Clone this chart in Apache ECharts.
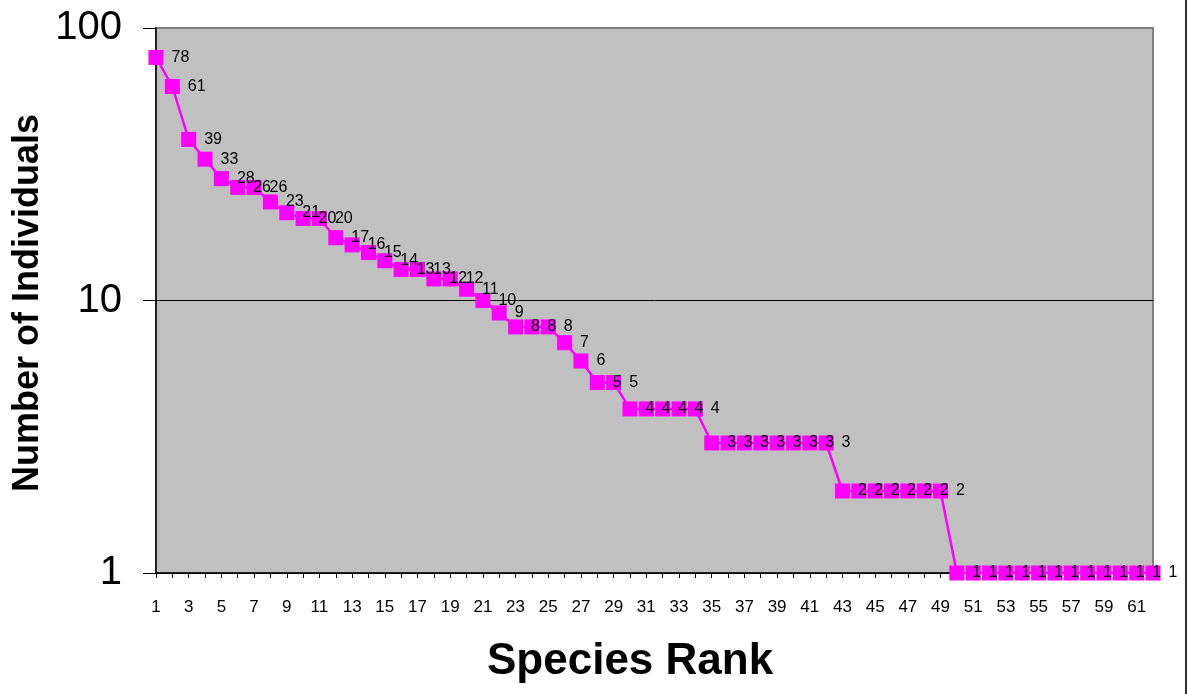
<!DOCTYPE html>
<html>

<head>
  <meta charset="utf-8" />
  <script src="https://cdn.jsdelivr.net/npm/echarts@6/dist/echarts.min.js"></script>
</head>

<body style="margin:0;background:#fff;">
  <div id="main" style="width: 1188px;height:694px;"></div>
  <script type="text/javascript">
    // species rank 1..62 and their counts
    var ranks = []
    for (var r = 1; r <= 62; r++) ranks.push(String(r))
    var individuals = [
      78, 61, 39, 33, 28, 26, 26, 23, 21, 20,
      20, 17, 16, 15, 14, 13, 13, 12, 12, 11,
      10, 9, 8, 8, 8, 7, 6, 5, 5, 4,
      4, 4, 4, 4, 3, 3, 3, 3, 3, 3,
      3, 3, 2, 2, 2, 2, 2, 2, 2, 1,
      1, 1, 1, 1, 1, 1, 1, 1, 1, 1,
      1, 1
    ]
    var yTicks = [1, 10, 100]

    var font = '"Liberation Sans", Arial, sans-serif'
    var myChart = echarts.init(document.getElementById('main'));

    var option = {
      animation: false,
      textStyle: { fontFamily: font },
      grid: {
        left: 156,
        top: 28,
        right: 35,
        bottom: 121,
        show: true,
        backgroundColor: '#C0C0C0',
        borderColor: '#808080',
        borderWidth: 2
      },
      xAxis: {
        type: 'category',
        data: ranks,
        boundaryGap: false,
        axisLine: { lineStyle: { color: '#000', width: 1.5 } },
        axisTick: { show: true, interval: 0, length: 5, lineStyle: { color: '#000' } },
        axisLabel: {
          interval: 1,
          color: '#000',
          fontSize: 17,
          margin: 26,
          fontFamily: font
        },
        splitLine: { show: false }
      },
      yAxis: {
        type: 'log',
        logBase: 10,
        min: yTicks[0],
        max: yTicks[yTicks.length - 1],
        axisLine: { show: true, lineStyle: { color: '#000', width: 1.5 } },
        axisTick: { show: true, inside: false, length: 13, lineStyle: { color: '#000' } },
        axisLabel: {
          color: '#000',
          fontSize: 40,
          margin: 34,
          fontFamily: font
        },
        splitLine: { show: true, lineStyle: { color: ['#000', '#000', '#808080'], width: 1 } }
      },
      series: [
        {
          type: 'line',
          data: individuals,
          symbol: 'rect',
          symbolSize: 15,
          showAllSymbol: true,
          itemStyle: { color: '#FF00FF' },
          lineStyle: { color: '#FF00FF', width: 2.5 },
          label: {
            show: true,
            position: 'right',
            distance: 8,
            color: '#000',
            fontSize: 16,
            fontFamily: font
          },
          labelLayout: { hideOverlap: false }
        }
      ],
      graphic: [
        {
          type: 'text',
          left: 630 - 143,
          top: 640,
          style: {
            text: 'Species Rank',
            font: 'bold 44px ' + font,
            fill: '#000'
          }
        },
        {
          type: 'text',
          x: 10,
          y: 303,
          rotation: Math.PI / 2,
          style: {
            text: 'Number of Individuals',
            font: 'bold 36px ' + font,
            fill: '#000',
            align: 'center',
            verticalAlign: 'top'
          }
        },
        {
          type: 'line',
          shape: { x1: 1186, y1: 0, x2: 1186, y2: 694 },
          style: { stroke: '#333', lineWidth: 2 }
        }
      ]
    };

    myChart.setOption(option);
  </script>
</body>

</html>
